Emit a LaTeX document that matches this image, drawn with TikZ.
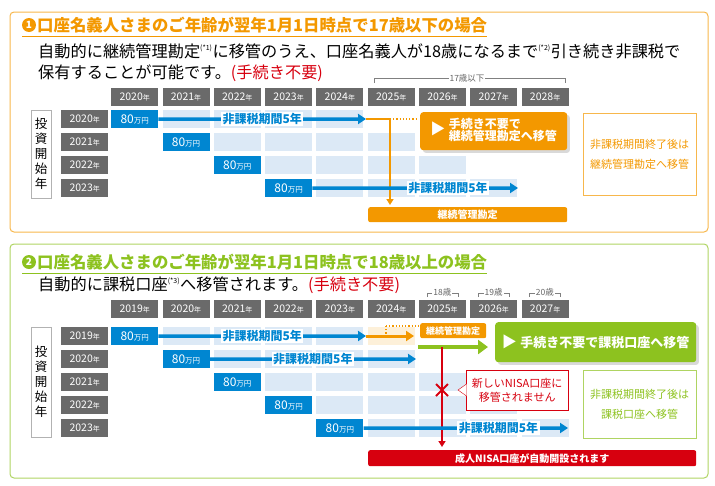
\documentclass[tikz,border=0pt]{standalone}
\usepackage{fontspec}
\setmainfont{Noto Sans CJK JP}
\usetikzlibrary{positioning,arrows.meta,shadows}
\definecolor{ora}{HTML}{F39800}
\definecolor{blu}{HTML}{0086D1}
\definecolor{lblu}{HTML}{DCE9F6}
\definecolor{gry}{HTML}{6A6A6A}
\definecolor{grn}{HTML}{8DC21F}
\definecolor{rd}{HTML}{D7000F}
\newcommand{\nen}{{\fontsize{7}{7}\selectfont 年}}
\newcommand{\man}{{\fontsize{7.5}{7}\selectfont 万円}}
\tikzset{
  yrbox/.style={fill=gry,text=white,anchor=north west,minimum width=47,minimum height=18,inner sep=0,font=\fontsize{10.5}{10}\selectfont},
  amtbox/.style={fill=blu,text=white,anchor=north west,minimum width=47,minimum height=18,inner sep=0,font=\fontsize{12}{12}\selectfont},
  cellbox/.style={fill=lblu,anchor=north west,minimum width=47,minimum height=18,inner sep=0},
  bluarrow/.style={blu,line width=3.5,-{Triangle[length=8,width=10]}},
  perlbl/.style={fill=white,text=blu,inner sep=1.5,font=\bfseries\fontsize{12}{12}\selectfont},
  title/.style={anchor=west,inner sep=0,font=\bfseries\fontsize{16.4}{17}\selectfont},
  body/.style={anchor=west,inner sep=0,font=\fontsize{16.2}{17}\selectfont},
  num/.style={circle,inner sep=0,minimum size=14,text=white,font=\bfseries\fontsize{10}{10}\selectfont},
  vlbl/.style={draw=gray!60,anchor=north west,minimum width=20,inner sep=0,align=center,font=\fontsize{12.5}{15}\selectfont}
}
\begin{document}
\begin{tikzpicture}[x=1pt,y=-1pt]
\useasboundingbox (0,0) rectangle (715,485);
% ---- panel 1
\draw[ora!70,line width=1,rounded corners=4] (10,12) rectangle (708,232);
\node[num,fill=ora] (n1) at (29,25) {1};
\node[title,text=ora] (t1) at (37,25) {口座名義人さまのご年齢が翌年1月1日時点で17歳以下の場合};
\draw[ora] (22,36) -- (t1.east |- 0,36);
\node[body] (b1) at (38,51) {自動的に継続管理勘定\textsuperscript{\fontsize{7}{7}\selectfont(*1)}に移管のうえ、口座名義人が18歳になるまで\textsuperscript{\fontsize{7}{7}\selectfont(*2)}引き続き非課税で};
\node[body] (b2) at (38,73) {保有することが可能です。\textcolor{rd}{(手続き不要)}};
\draw[gray] (374,83) -- (374,78) -- (565,78) -- (565,83);
\node[fill=white,inner sep=1,font=\fontsize{8.5}{8}\selectfont,text=gray!80!black] (age1) at (467,78) {17歳以下};
\foreach \c in {0,...,8} {
  \pgfmathtruncatemacro{\yy}{2020+\c}
  \node[yrbox] (h1-\c) at ({111+51.3*\c},88) {\yy\nen};
}
\node[vlbl,minimum height=88] (v1) at (31,110) {投\\資\\開\\始\\年};
\foreach \r in {0,...,3} {
  \pgfmathtruncatemacro{\yy}{2020+\r}
  \node[yrbox] (r1-\r) at (61,{110+23*\r}) {\yy\nen};
  \node[amtbox] (a1-\r) at ({111+51.3*\r},{110+23*\r}) {80\man};
  \foreach \c in {1,...,4}
    \node[cellbox] (c1-\r-\c) at ({111+51.3*(\r+\c)},{110+23*\r}) {};
}
\coordinate (e1) at (366,119);
\coordinate (k1) at (390,119);
\coordinate (k2) at (390,205);
\coordinate (d1) at (416,119);
\coordinate (e4) at (518,188);
\draw[bluarrow] (a1-0.east) -- node[perlbl,pos=0.5] (p1) {非課税期間5年} (e1);
\draw[ora,line width=1.5] (e1) -- (k1);
\draw[ora,line width=1.5,-{Triangle[length=6,width=7]}] (k1) -- (k2);
\draw[ora,line width=1.2,dotted] (k1) -- (d1);
\draw[bluarrow] (a1-3.east) -- node[perlbl,pos=0.66] (p4) {非課税期間5年} (e4);
\node[fill=ora,text=white,rounded corners=2,anchor=north west,minimum width=199,minimum height=15,inner sep=0,font=\bfseries\fontsize{10}{10}\selectfont] (kz1) at (368,207) {継続管理勘定};
\node[fill=ora,text=white,rounded corners=3,drop shadow={opacity=0.3},anchor=north west,minimum width=147,minimum height=38,inner sep=4,font=\bfseries\fontsize{12}{13}\selectfont] (ob1) at (420,112)
  {\fontsize{15}{15}\selectfont▶\ \fontsize{12}{13}\selectfont\begin{tabular}{@{}l@{}}手続き不要で\\[-3pt]継続管理勘定へ移管\end{tabular}};
\node[draw=ora!70,text=ora,anchor=north west,minimum width=113,minimum height=82,inner sep=0,align=center,font=\fontsize{11}{20}\selectfont] (rb1) at (583,113) {非課税期間終了後は\\継続管理勘定へ移管};
% ---- panel 2
\draw[grn!70,line width=1,rounded corners=4] (10,244) rectangle (708,478);
\node[num,fill=grn] (n2) at (29,262) {2};
\node[title,text=grn] (t2) at (37,262) {口座名義人さまのご年齢が翌年1月1日時点で18歳以上の場合};
\draw[grn] (22,273) -- (t2.east |- 0,273);
\node[body] (b3) at (38,285) {自動的に課税口座\textsuperscript{\fontsize{7}{7}\selectfont(*3)}へ移管されます。\textcolor{rd}{(手続き不要)}};
\foreach \c/\a in {6/18,7/19,8/20} {
  \draw[gray] ({111+51.3*\c+8},297) -- ({111+51.3*\c+8},293) -- ({111+51.3*\c+39},293) -- ({111+51.3*\c+39},297);
  \node[fill=white,inner sep=1,font=\fontsize{8.5}{8}\selectfont,text=gray!80!black] (ag-\c) at ({111+51.3*\c+23.5},292) {\a 歳};
}
\foreach \c in {0,...,8} {
  \pgfmathtruncatemacro{\yy}{2019+\c}
  \node[yrbox] (h2-\c) at ({111+51.3*\c},300) {\yy\nen};
}
\node[vlbl,minimum height=110] (v2) at (31,327) {投\\資\\開\\始\\年};
\foreach \r in {0,...,4} {
  \pgfmathtruncatemacro{\yy}{2019+\r}
  \node[yrbox] (r2-\r) at (61,{327+23*\r}) {\yy\nen};
  \node[amtbox] (a2-\r) at ({111+51.3*\r},{327+23*\r}) {80\man};
  \foreach \c in {1,...,4}
    \node[cellbox] (c2-\r-\c) at ({111+51.3*(\r+\c)},{327+23*\r}) {};
}
\node[cellbox,fill=ora!15] (c2-0-5) at ({111+51.3*5},327) {};
\coordinate (f1) at (366,336);
\coordinate (f2) at (414,336);
\coordinate (f5) at (416,359);
\coordinate (f9) at (568,428);
\coordinate (g1) at (386,326);
\coordinate (g2) at (420,326);
\coordinate (g3) at (418,347);
\coordinate (g4) at (488,347);
\coordinate (q1) at (442,347);
\coordinate (q2) at (442,447);
\draw[ora,line width=3,-{Triangle[length=8,width=10]}] (f1) -- (f2);
\draw[bluarrow] (a2-0.east) -- node[perlbl,pos=0.5] (p5) {非課税期間5年} (f1);
\draw[bluarrow] (a2-1.east) -- node[perlbl,pos=0.5] (p6) {非課税期間5年} (f5);
\draw[ora,line width=1.2,dotted] (g1) -- (g2);
\draw[ora,line width=1.2,dotted] (g1) -- (386,336);
\node[fill=ora,text=white,rounded corners=2,anchor=north west,minimum width=66,minimum height=15,inner sep=0,font=\bfseries\fontsize{9}{9}\selectfont] (kz2) at (420,323) {継続管理勘定};
\draw[grn,line width=3.5,-{Triangle[length=10,width=14]}] (g3) -- (g4);
\node[fill=grn,text=white,rounded corners=3,drop shadow={opacity=0.3},anchor=north west,minimum width=201,minimum height=40,inner sep=4,font=\bfseries\fontsize{13}{13}\selectfont] (gb2) at (495,322)
  {\fontsize{15}{15}\selectfont▶\ \fontsize{13}{13}\selectfont 手続き不要で課税口座へ移管};
\draw[rd,line width=1.5,-{Triangle[length=6,width=7]}] (q1) -- (q2);
\draw[bluarrow] (a2-4.east) -- node[perlbl,pos=0.66] (p9) {非課税期間5年} (f9);
\draw[rd,line width=2] (436,384) -- (448,396) (436,396) -- (448,384);
\node[draw=rd,fill=white,text=rd,anchor=north west,minimum width=102,minimum height=40,inner sep=0,align=center,font=\fontsize{11}{14}\selectfont] (cb2) at (466,370) {新しいNISA口座に\\移管されません};
\draw[rd,fill=white] (466.5,384) -- (458,390) -- (466.5,396);
\node[fill=rd,text=white,rounded corners=2,anchor=north west,minimum width=328,minimum height=16,inner sep=0,font=\bfseries\fontsize{10}{10}\selectfont] (nb2) at (368,450) {成人NISA口座が自動開設されます};
\node[draw=grn!70,text=grn,anchor=north west,minimum width=113,minimum height=68,inner sep=0,align=center,font=\fontsize{11}{20}\selectfont] (rb2) at (583,370) {非課税期間終了後は\\課税口座へ移管};
\end{tikzpicture}
\end{document}
